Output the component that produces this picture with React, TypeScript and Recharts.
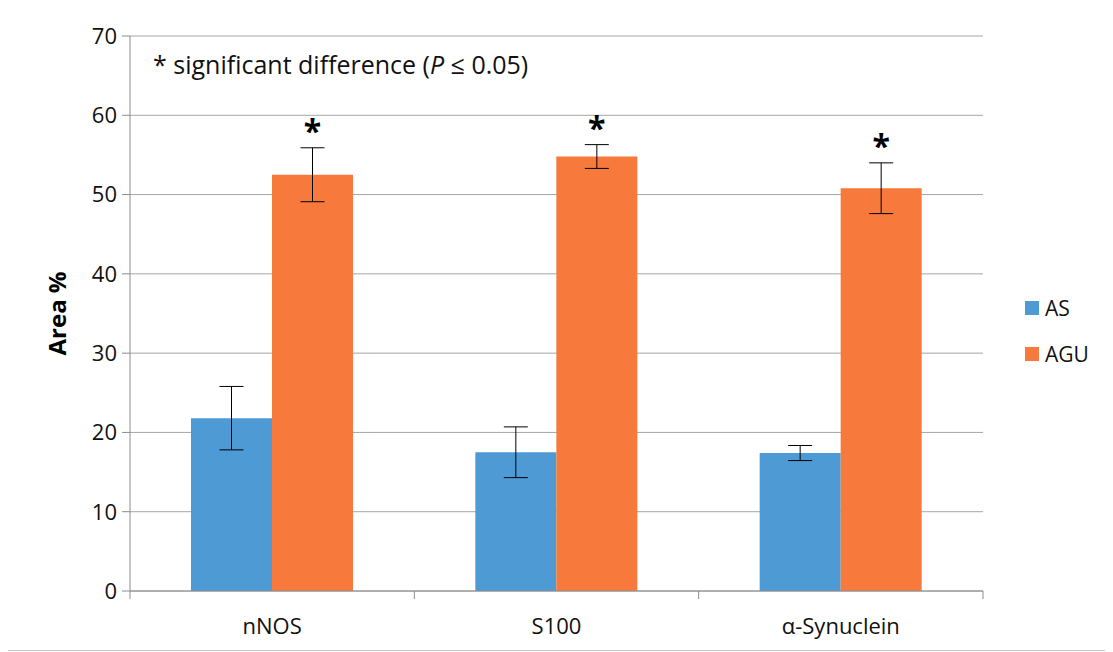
import React from 'react';
import {
  BarChart,
  Bar,
  XAxis,
  YAxis,
  CartesianGrid,
  ErrorBar,
  Legend,
  LabelList,
  Customized,
} from 'recharts';

const categories = ['nNOS', 'S100', 'α-Synuclein'];
const asValues = [21.8, 17.5, 17.4];
const asErrors = [4.0, 3.2, 0.95];
const aguValues = [52.5, 54.8, 50.8];
const aguErrors = [3.4, 1.5, 3.2];
const significance = ['*', '*', '*'];
const yTicks = [0, 10, 20, 30, 40, 50, 60, 70];
const seriesNames = ['AS', 'AGU'];

const data = categories.map((c, i) => ({
  category: c,
  AS: asValues[i],
  asErr: asErrors[i],
  AGU: aguValues[i],
  aguErr: aguErrors[i],
  sig: significance[i],
}));

const FONT = '"Open Sans", sans-serif';
const BLUE = '#4e9ad4';
const ORANGE = '#f7793c';
const AXIS = '#8c8c8c';
const GRID = '#a6a6a6';

const CHART_W = 1104;
const CHART_H = 640;
const MARGIN = { top: 28, right: 39, bottom: 7, left: 30 };
const Y_W = 92;
const X_H = 50;
const LEGEND_W = 90;
const PLOT_W = CHART_W - MARGIN.left - Y_W - MARGIN.right - LEGEND_W;
const BAND = PLOT_W / categories.length;

const XTick = (props: any) => {
  const { x, y, payload, index } = props;
  return (
    <g>
      <line x1={x - BAND / 2} x2={x - BAND / 2} y1={y} y2={y + 8} stroke={AXIS} strokeWidth={1} />
      {index === categories.length - 1 && (
        <line x1={x + BAND / 2} x2={x + BAND / 2} y1={y} y2={y + 8} stroke={AXIS} strokeWidth={1} />
      )}
      <text
        x={x}
        y={y + 34}
        textAnchor="middle"
        dominantBaseline="central"
        fontFamily={FONT}
        fontSize={22}
        fill="#111"
      >
        {payload.value}
      </text>
    </g>
  );
};

const SigLabel = (props: any) => {
  const { x, y, width, height, value, index } = props;
  const v = aguValues[index];
  const pxPerUnit = Number(height) / v;
  const errTop = Number(y) - aguErrors[index] * pxPerUnit;
  return (
    <text
      x={Number(x) + Number(width) / 2}
      y={errTop - 5}
      textAnchor="middle"
      fontFamily={FONT}
      fontWeight={700}
      fontSize={32}
      fill="#000"
    >
      {value}
    </text>
  );
};

const renderLegend = () => {
  const colors = [BLUE, ORANGE];
  return (
    <div style={{ width: LEGEND_W }}>
      {seriesNames.map((n, i) => (
        <div
          key={n}
          style={{
            display: 'flex',
            alignItems: 'center',
            height: 28,
            marginBottom: i === 0 ? 18 : 0,
          }}
        >
          <span style={{ width: 14, height: 14, background: colors[i], display: 'inline-block' }} />
          <span
            style={{
              marginLeft: 6,
              fontFamily: FONT,
              fontSize: 21,
              color: '#111',
              lineHeight: '28px',
            }}
          >
            {n}
          </span>
        </div>
      ))}
    </div>
  );
};

const Annotation = () => (
  <text x={145} y={66} fontFamily={FONT} fontSize={25} fill="#111">
    <tspan>* significant difference (</tspan>
    <tspan fontStyle="italic">P</tspan>
    <tspan> ≤ 0.05)</tspan>
  </text>
);

export default function App() {
  return (
    <div
      style={{
        position: 'relative',
        width: CHART_W + 1,
        height: CHART_H + 2,
        border: '1px solid #c4c4c4',
        margin: '-1px 0 0 -1px',
        background: '#fff',
      }}
    >
      <BarChart
        width={CHART_W}
        height={CHART_H}
        data={data}
        margin={MARGIN}
        barGap={0}
        barSize={81}
      >
        <CartesianGrid vertical={false} stroke={GRID} strokeWidth={1} />
        <XAxis
          dataKey="category"
          height={X_H}
          axisLine={{ stroke: AXIS }}
          tickLine={false}
          tickSize={0}
          tickMargin={0}
          tick={<XTick />}
          interval={0}
        />
        <YAxis
          width={Y_W}
          domain={[0, 70]}
          ticks={yTicks}
          axisLine={{ stroke: AXIS }}
          tickLine={{ stroke: AXIS }}
          tickSize={8}
          tickMargin={5}
          tick={{ fontFamily: FONT, fontSize: 22, fill: '#111' }}
          label={(p: any) => {
            const vb = p.viewBox || {};
            const cx = (vb.x ?? 30) + 18;
            const cy = (vb.y ?? 28) + (vb.height ?? 555) / 2;
            return (
              <text
                x={cx}
                y={cy}
                transform={`rotate(-90 ${cx} ${cy})`}
                textAnchor="middle"
                dominantBaseline="central"
                fontFamily={FONT}
                fontWeight={700}
                fontSize={24}
                fill="#000"
              >
                Area %
              </text>
            );
          }}
        />
        <Legend
          layout="vertical"
          align="right"
          verticalAlign="middle"
          wrapperStyle={{ left: 1017, top: 286, width: LEGEND_W }}
          content={renderLegend}
        />
        <Bar dataKey="AS" name="AS" fill={BLUE} isAnimationActive={false}>
          <ErrorBar dataKey="asErr" width={12} stroke="#000" strokeWidth={1} />
        </Bar>
        <Bar dataKey="AGU" name="AGU" fill={ORANGE} isAnimationActive={false}>
          <ErrorBar dataKey="aguErr" width={12} stroke="#000" strokeWidth={1} />
          <LabelList dataKey="sig" content={<SigLabel />} />
        </Bar>
        <Customized component={Annotation} />
      </BarChart>
    </div>
  );
}
